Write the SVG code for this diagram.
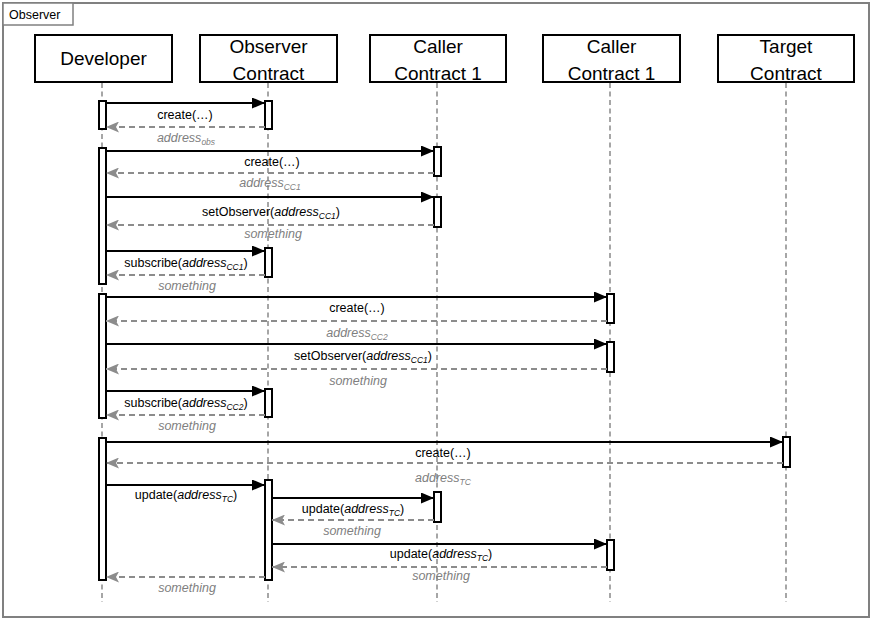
<svg xmlns="http://www.w3.org/2000/svg" width="871" height="619" viewBox="0 0 871 619">
<style>
text{font-family:"Liberation Sans",Arial,sans-serif;}
.head{fill:#fff;stroke:#000;stroke-width:2;}
.ht{font-size:19px;fill:#000;text-anchor:middle;}
.life{stroke:#a6a6a6;stroke-width:2;stroke-dasharray:5,3.5;fill:none;}
.act{fill:#fff;stroke:#000;stroke-width:2;}
.call{stroke:#000;stroke-width:2;fill:none;marker-end:url(#ah);}
.ret{stroke:#8c8c8c;stroke-width:2;stroke-dasharray:6,4;fill:none;marker-end:url(#rh);}
.ml{font-size:12.5px;fill:#000;text-anchor:middle;}
.rl{font-size:12.5px;fill:#808080;font-style:italic;text-anchor:middle;}
.it{font-style:italic;}
.sub{font-size:8.5px;font-style:italic;}
</style>
<defs>
<marker id="ah" markerUnits="userSpaceOnUse" markerWidth="13" markerHeight="11" refX="13" refY="5.5" orient="auto">
<path d="M0,0 L13,5.5 L0,11 z" fill="#000"/>
</marker>
<marker id="rh" markerUnits="userSpaceOnUse" markerWidth="13" markerHeight="11" refX="13" refY="5.5" orient="auto">
<path d="M0,0 L13,5.5 L0,11 L3,5.5 z" fill="#8c8c8c"/>
</marker>
</defs>
<rect x="0" y="0" width="871" height="619" fill="#fff"/>
<g id="frame">
<rect x="3" y="3" width="866" height="614" fill="none" stroke="#808080" stroke-width="2"/>
<rect x="3" y="3" width="70" height="22" fill="#fff" stroke="#808080" stroke-width="1.5"/>
<text x="9" y="19" font-size="12.5" fill="#000">Observer</text>
</g>
<g id="developer">
<line class="life" x1="102" y1="83" x2="102" y2="602"/>
<rect class="head" x="35" y="35" width="137" height="47"/>
<text class="ht" x="103.5" y="65">Developer</text>
</g>
<g id="observer-contract">
<line class="life" x1="268" y1="83" x2="268" y2="602"/>
<rect class="head" x="200" y="35" width="137" height="47"/>
<text class="ht" x="268.5" y="53">Observer</text>
<text class="ht" x="268.5" y="79.5">Contract</text>
</g>
<g id="caller-contract-1a">
<line class="life" x1="437" y1="83" x2="437" y2="602"/>
<rect class="head" x="370" y="35" width="136" height="47"/>
<text class="ht" x="438" y="53">Caller</text>
<text class="ht" x="438" y="79.5">Contract 1</text>
</g>
<g id="caller-contract-1b">
<line class="life" x1="610" y1="83" x2="610" y2="602"/>
<rect class="head" x="543" y="35" width="137" height="47"/>
<text class="ht" x="611.5" y="53">Caller</text>
<text class="ht" x="611.5" y="79.5">Contract 1</text>
</g>
<g id="target-contract">
<line class="life" x1="786" y1="83" x2="786" y2="602"/>
<rect class="head" x="718" y="35" width="136" height="47"/>
<text class="ht" x="786" y="53">Target</text>
<text class="ht" x="786" y="79.5">Contract</text>
</g>
<g id="activations">
<rect class="act" x="99" y="101" width="7" height="28"/>
<rect class="act" x="265" y="101" width="7" height="28"/>
<rect class="act" x="99" y="148" width="7" height="136"/>
<rect class="act" x="434" y="147" width="7" height="29"/>
<rect class="act" x="434" y="197" width="7" height="30"/>
<rect class="act" x="265" y="248" width="7" height="29"/>
<rect class="act" x="99" y="294" width="7" height="124"/>
<rect class="act" x="607" y="294" width="7" height="29"/>
<rect class="act" x="607" y="342" width="7" height="30"/>
<rect class="act" x="265" y="389" width="7" height="28"/>
<rect class="act" x="99" y="438" width="7" height="142"/>
<rect class="act" x="783" y="437" width="7" height="30"/>
<rect class="act" x="265" y="480" width="7" height="100"/>
<rect class="act" x="434" y="492" width="7" height="30"/>
<rect class="act" x="607" y="540" width="7" height="30"/>
</g>
<g id="connectors">
<line class="call" x1="106" y1="103" x2="265" y2="103"/>
<line class="ret" x1="265" y1="127" x2="106" y2="127"/>
<line class="call" x1="106" y1="151" x2="434" y2="151"/>
<line class="ret" x1="434" y1="173" x2="106" y2="173"/>
<line class="call" x1="106" y1="197" x2="434" y2="197"/>
<line class="ret" x1="434" y1="225" x2="106" y2="225"/>
<line class="call" x1="106" y1="251" x2="265" y2="251"/>
<line class="ret" x1="265" y1="275" x2="106" y2="275"/>
<line class="call" x1="106" y1="297" x2="607" y2="297"/>
<line class="ret" x1="607" y1="321" x2="106" y2="321"/>
<line class="call" x1="106" y1="344" x2="607" y2="344"/>
<line class="ret" x1="607" y1="369" x2="106" y2="369"/>
<line class="call" x1="106" y1="391" x2="265" y2="391"/>
<line class="ret" x1="265" y1="415" x2="106" y2="415"/>
<line class="call" x1="106" y1="442" x2="783" y2="442"/>
<line class="ret" x1="783" y1="463" x2="106" y2="463"/>
<line class="call" x1="106" y1="485" x2="265" y2="485"/>
<line class="call" x1="272" y1="498" x2="434" y2="498"/>
<line class="ret" x1="434" y1="520" x2="272" y2="520"/>
<line class="call" x1="272" y1="544" x2="607" y2="544"/>
<line class="ret" x1="607" y1="567" x2="272" y2="567"/>
<line class="ret" x1="265" y1="577" x2="106" y2="577"/>
</g>
<g id="labels">
<text class="ml" x="185" y="119">create(…)</text>
<text class="rl" x="186" y="142">address<tspan class="sub" dy="3">obs</tspan></text>
<text class="ml" x="272" y="166">create(…)</text>
<text class="rl" x="270" y="187">address<tspan class="sub" dy="3">CC1</tspan></text>
<text class="ml" x="271" y="216">setObserver(<tspan class="it">address</tspan><tspan class="sub" dy="3">CC1</tspan><tspan dy="-3">)</tspan></text>
<text class="rl" x="273" y="238">something</text>
<text class="ml" x="186" y="267">subscribe(<tspan class="it">address</tspan><tspan class="sub" dy="3">CC1</tspan><tspan dy="-3">)</tspan></text>
<text class="rl" x="187" y="290">something</text>
<text class="ml" x="357" y="312">create(…)</text>
<text class="rl" x="357" y="337">address<tspan class="sub" dy="3">CC2</tspan></text>
<text class="ml" x="363" y="360">setObserver(<tspan class="it">address</tspan><tspan class="sub" dy="3">CC1</tspan><tspan dy="-3">)</tspan></text>
<text class="rl" x="358" y="385">something</text>
<text class="ml" x="186" y="407">subscribe(<tspan class="it">address</tspan><tspan class="sub" dy="3">CC2</tspan><tspan dy="-3">)</tspan></text>
<text class="rl" x="187" y="430">something</text>
<text class="ml" x="443" y="457">create(…)</text>
<text class="rl" x="443" y="482">address<tspan class="sub" dy="3">TC</tspan></text>
<text class="ml" x="186" y="499">update(<tspan class="it">address</tspan><tspan class="sub" dy="3">TC</tspan><tspan dy="-3">)</tspan></text>
<text class="ml" x="353" y="513">update(<tspan class="it">address</tspan><tspan class="sub" dy="3">TC</tspan><tspan dy="-3">)</tspan></text>
<text class="rl" x="352" y="535">something</text>
<text class="ml" x="441" y="558">update(<tspan class="it">address</tspan><tspan class="sub" dy="3">TC</tspan><tspan dy="-3">)</tspan></text>
<text class="rl" x="441" y="580">something</text>
<text class="rl" x="187" y="592">something</text>
</g>
</svg>
